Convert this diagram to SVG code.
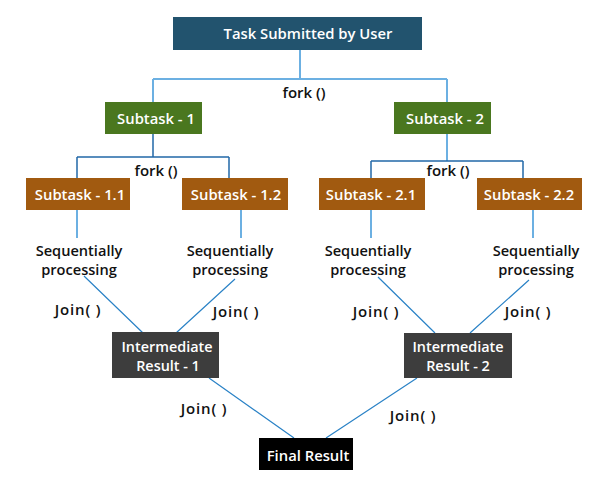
<svg xmlns="http://www.w3.org/2000/svg" width="616" height="483" viewBox="0 0 616 483">
<style>
text{font-family:"Open Sans","DejaVu Sans",sans-serif;font-weight:600;font-size:14.8px;text-anchor:middle;dominant-baseline:central}
.w{fill:#ffffff}
.k{fill:#111111;font-size:15px}
.s{font-size:14.6px}
.i{font-size:14.4px}
.j{letter-spacing:0.8px}
.l1{stroke:#6cb0e2;stroke-width:2;fill:none}
.l2{stroke:#2268a8;stroke-width:1.5;fill:none}
.l3{stroke:#2a82c6;stroke-width:1.2;fill:none}
</style>
<rect width="616" height="483" fill="#ffffff"/>
<g id="connectors">
<path class="l1" d="M300 50V79M153 79H447M153 79V102M447 79V102"/>
<path class="l2" d="M153 134V157M77 157H229M77 157V178M229 157V178"/>
<path class="l1" d="M447 134V161"/>
<path class="l2" d="M371 161H523M371 161V178M523 161V178"/>
<path class="l1" d="M77 210V238M241 210V238M371 210V238M533 210V238"/>
<path class="l3" d="M84 276L143 333M235 279L176 333M378 277L435 333M529 280L470 333"/>
<path class="l3" d="M209 378L294 438M417 378L326 438"/>
</g>
<g id="task"><rect x="173" y="17" width="249" height="33" fill="#22536e"/><text class="w" x="308" y="33">Task Submitted by User</text></g>
<text class="k" x="304" y="92">fork ()</text>
<g id="subtask1"><rect x="105" y="102" width="97" height="32" fill="#4a771f"/><text class="w" x="156" y="118">Subtask - 1</text></g>
<g id="subtask2"><rect x="394" y="102" width="97" height="32" fill="#4a771f"/><text class="w" x="445" y="118">Subtask - 2</text></g>
<text class="k" x="156" y="170">fork ()</text>
<text class="k" x="448" y="170">fork ()</text>
<g id="subtask11"><rect x="26" y="178" width="104" height="32" fill="#a15a10"/><text class="w" x="80" y="194">Subtask - 1.1</text></g>
<g id="subtask12"><rect x="182" y="178" width="106" height="32" fill="#a15a10"/><text class="w" x="236" y="194">Subtask - 1.2</text></g>
<g id="subtask21"><rect x="319" y="178" width="106" height="32" fill="#a15a10"/><text class="w" x="371" y="194">Subtask - 2.1</text></g>
<g id="subtask22"><rect x="477" y="178" width="105" height="32" fill="#a15a10"/><text class="w" x="529" y="194">Subtask - 2.2</text></g>
<g id="seq11"><text class="k s" x="79" y="250">Sequentially</text><text class="k s" x="79" y="269">processing</text></g>
<g id="seq12"><text class="k s" x="230" y="250">Sequentially</text><text class="k s" x="230" y="269">processing</text></g>
<g id="seq21"><text class="k s" x="368" y="250">Sequentially</text><text class="k s" x="368" y="269">processing</text></g>
<g id="seq22"><text class="k s" x="536" y="250">Sequentially</text><text class="k s" x="536" y="269">processing</text></g>
<text class="k j" x="78" y="309">Join( )</text>
<text class="k j" x="236" y="311">Join( )</text>
<text class="k j" x="376" y="311">Join( )</text>
<text class="k j" x="528" y="311">Join( )</text>
<g id="inter1"><rect x="112" y="332" width="107" height="46" fill="#3d3d3d"/><text class="w i" x="167" y="346">Intermediate</text><text class="w i" x="168" y="365">Result - 1</text></g>
<g id="inter2"><rect x="404" y="333" width="108" height="45" fill="#3d3d3d"/><text class="w i" x="458" y="346">Intermediate</text><text class="w i" x="458" y="365">Result - 2</text></g>
<text class="k j" x="204" y="408">Join( )</text>
<text class="k j" x="413" y="415">Join( )</text>
<g id="final"><rect x="259" y="438" width="94" height="32" fill="#000000"/><text class="w" x="308" y="455">Final Result</text></g>
</svg>
